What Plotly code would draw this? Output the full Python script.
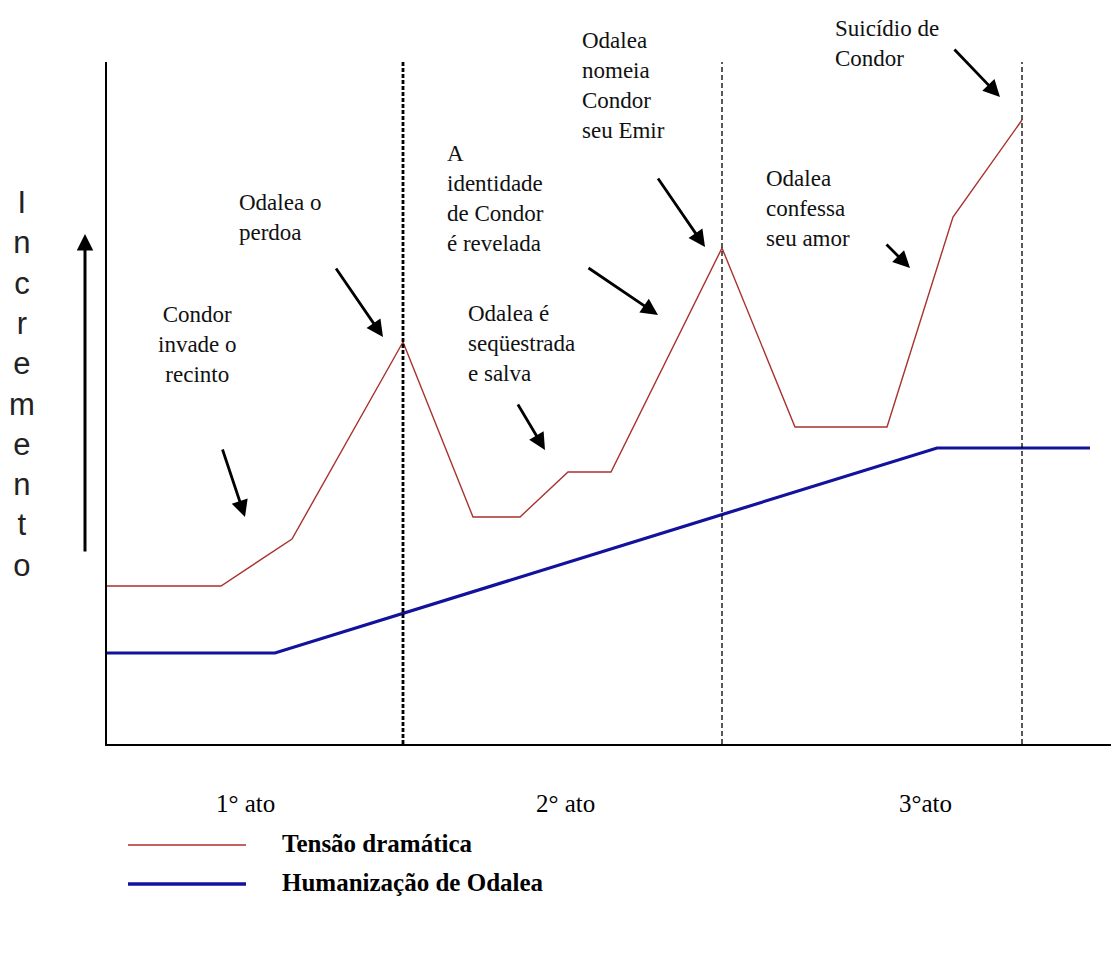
import plotly.graph_objects as go

# ---- data (story time on x, "incremento" level on y) ----
tension_x = [0, 11.4, 18.5, 29.6, 36.6, 41.3, 46.1, 50.4, 61.5, 68.8, 78.0, 84.6, 91.5]
tension_y = [15.8, 15.8, 20.5, 40.2, 22.7, 22.7, 27.2, 27.2, 49.6, 31.7, 31.7, 52.7, 62.4]
human_x = [0, 16.8, 83.0, 98.3]
human_y = [9.1, 9.1, 29.6, 29.6]
act_bounds = [29.6, 61.5, 91.5]
act_labels = ["1° ato", "2° ato", "3°ato"]
act_centers = [13.8, 45.8, 81.8]
series_names = ["Tensão dramática", "Humanização de Odalea"]
event_texts = [
    "Condor<br>invade o<br>recinto",
    "Odalea o<br>perdoa",
    "A<br>identidade<br>de Condor<br>é revelada",
    "Odalea é<br>seqüestrada<br>e salva",
    "Odalea<br>nomeia<br>Condor<br>seu Emir",
    "Odalea<br>confessa<br>seu amor",
    "Suicídio de<br>Condor",
]
# arrow (head x, head y, tail x, tail y) in data units
event_arrows = [
    (13.8, 22.7, 11.5, 29.6),
    (27.6, 40.7, 22.8, 47.7),
    (55.1, 42.9, 48.0, 47.7),
    (43.8, 29.4, 41.0, 34.1),
    (59.8, 49.7, 55.0, 56.7),
    (80.3, 47.6, 77.8, 50.1),
    (89.3, 64.7, 84.6, 69.6),
]
y_label = "Incremento"

# ---- layout helpers (page pixel -> paper); page body has an 8px margin ----
OFF = 8
L, R, T, B = 107, 1112, 62, 744          # plot area in page pixels
W, H = 1119 - OFF, 953 - OFF             # figure size
def PX(px):
    return (px - L) / (R - L)
def PY(py):
    return (B - py) / (B - T)

RED = "#a8322e"
BLUE = "#12129c"
SERIF = "Liberation Serif"

fig = go.Figure()
fig.add_trace(go.Scatter(x=tension_x, y=tension_y, mode="lines",
                         line=dict(color=RED, width=1.4), name=series_names[0],
                         showlegend=False))
fig.add_trace(go.Scatter(x=human_x, y=human_y, mode="lines",
                         line=dict(color=BLUE, width=3.2), name=series_names[1],
                         showlegend=False))

shapes = []
for i, xb in enumerate(act_bounds):
    shapes.append(dict(type="line", xref="x", yref="paper", x0=xb, x1=xb, y0=0, y1=1,
                       line=dict(color="black", width=2.8 if i == 0 else 1.3,
                                 dash="4px,2px" if i == 0 else "5px,3px")))

# legend (manual)
leg_rows = [(845, RED, 1.6), (884, BLUE, 3.6)]
for (py, col, w) in leg_rows:
    shapes.append(dict(type="line", xref="paper", yref="paper",
                       x0=PX(128), x1=PX(246), y0=PY(py), y1=PY(py),
                       line=dict(color=col, width=w)))

annotations = []
for (py, _, _), name in zip(leg_rows, series_names):
    annotations.append(dict(xref="paper", yref="paper", x=PX(280), y=PY(py - 2),
                            xanchor="left", yanchor="middle", text="<b>" + name + "</b>",
                            showarrow=False, font=dict(family=SERIF, size=25, color="black")))

for xc, lab in zip(act_centers, act_labels):
    annotations.append(dict(xref="x", yref="paper", x=xc, y=PY(803), text=lab,
                            showarrow=False, xanchor="center", yanchor="middle",
                            font=dict(family=SERIF, size=25, color="black")))

# event text blocks: (x px, mid y px, anchor)
text_pos = [(197, 344, "center"), (237, 217, "left"), (445, 198, "left"),
            (466, 343, "left"), (580, 86, "left"), (764, 208, "left"), (833, 43, "left")]
for txt, (px, py, anc) in zip(event_texts, text_pos):
    annotations.append(dict(xref="paper", yref="paper", x=PX(px), y=PY(py), text=txt,
                            showarrow=False, xanchor=anc, yanchor="middle",
                            align="center" if anc == "center" else "left",
                            font=dict(family=SERIF, size=23, color="#111")))

for (hx, hy, tx, ty) in event_arrows:
    annotations.append(dict(xref="x", yref="y", x=hx, y=hy, axref="x", ayref="y",
                            ax=tx, ay=ty, text="", showarrow=True, arrowhead=2,
                            arrowsize=1.2, arrowwidth=2.8, arrowcolor="black"))

# vertical "Incremento" label and upward arrow
annotations.append(dict(xref="paper", yref="paper", x=PX(22), y=PY(384),
                        text="<br>".join(list(y_label)), showarrow=False,
                        xanchor="center", yanchor="middle", align="center",
                        font=dict(family="Liberation Sans", size=31, color="#222")))
annotations.append(dict(xref="paper", yref="paper", x=PX(85), y=PY(234),
                        ax=0, ay=553 - 234, text="", showarrow=True, arrowhead=2,
                        arrowsize=1.1, arrowwidth=3, arrowcolor="black"))

fig.update_layout(
    width=W, height=H,
    margin=dict(l=L - OFF, r=W - (R - OFF), t=T - OFF, b=H - (B - OFF)),
    paper_bgcolor="white", plot_bgcolor="white",
    xaxis=dict(range=[0, (R - L) / 10], showgrid=False, zeroline=False,
               showticklabels=False, ticks="", showline=True, linecolor="black",
               linewidth=1.6),
    yaxis=dict(range=[0, (B - T) / 10], showgrid=False, zeroline=False,
               showticklabels=False, ticks="", showline=True, linecolor="black",
               linewidth=1.6),
    shapes=shapes, annotations=annotations, showlegend=False,
)

fig.write_html("out.html")
